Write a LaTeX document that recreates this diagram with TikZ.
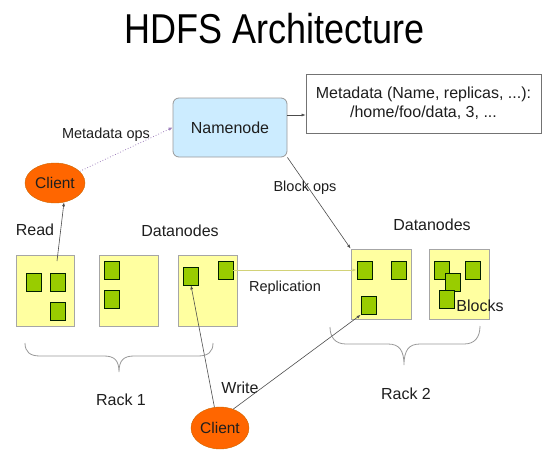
\documentclass[tikz,border=0pt]{standalone}
\usepackage{fontspec}
\setmainfont{Liberation Sans}
\usetikzlibrary{shapes.geometric,arrows.meta}
\definecolor{nnblue}{RGB}{204,236,255}
\definecolor{dnyellow}{RGB}{255,255,160}
\definecolor{blkgreen}{RGB}{153,204,0}
\definecolor{clientorange}{RGB}{255,102,0}
\definecolor{repline}{RGB}{210,210,120}
\definecolor{metaline}{RGB}{160,130,190}
\definecolor{txt}{RGB}{30,30,30}
\tikzset{
  lbl/.style={font=\fontsize{16}{18}\selectfont, text=txt, inner sep=0pt},
  slbl/.style={font=\fontsize{14.5}{17}\selectfont, text=txt, inner sep=0pt},
  nnbox/.style={draw=gray!80, fill=nnblue, rounded corners=6pt, minimum width=114pt, minimum height=59pt, line width=0.8pt, font=\fontsize{16}{18}\selectfont, text=txt},
  metabox/.style={draw=gray!90!black, fill=white, minimum width=235pt, minimum height=59pt, line width=0.8pt, align=center, font=\fontsize{16}{19}\selectfont, text=txt, inner sep=0pt},
  dnbox/.style={draw=gray!70, fill=dnyellow, line width=0.8pt, inner sep=0pt},
  blk/.style={draw=black!70!green!40!black, fill=blkgreen, minimum width=15pt, minimum height=18pt, inner sep=0pt, line width=0.7pt},
  client/.style={ellipse, draw=orange!80!black, fill=clientorange, inner sep=0pt, font=\fontsize{15.5}{18}\selectfont, text=txt},
  conn/.style={draw=black!70, line width=0.6pt, -{Latex[length=4pt,width=3pt]}},
  brc/.style={draw=gray!80, line width=0.8pt}
}
\begin{document}
\begin{tikzpicture}[x=1pt,y=-1pt]
\useasboundingbox (0,0) rectangle (543,450);
% title
\node[inner sep=0pt, text=black] (title) at (275,29) {\scalebox{1}[1.16]{\fontsize{36}{40}\selectfont HDFS Architecture}};
% namenode and metadata
\node[nnbox] (nn) at (230,127.5) {Namenode};
\node[metabox] (meta) at (423.5,103.5) {Metadata (Name, replicas, ...):\\/home/foo/data, 3, ...};
\coordinate (mw) at ([yshift=-11.5pt]meta.west);
\draw[conn] (nn.east |- mw) -- (mw);
% clients
\node[client, minimum width=60pt, minimum height=40pt] (c1) at (55,183) {Client};
\node[client, minimum width=58pt, minimum height=42pt] (c2) at (220,428) {Client};
% datanodes
\node[dnbox, minimum width=58pt, minimum height=71pt] (dn1) at (45,290.5) {};
\node[dnbox, minimum width=59pt, minimum height=71pt] (dn2) at (128.5,290.5) {};
\node[dnbox, minimum width=59pt, minimum height=71pt] (dn3) at (207.5,290.5) {};
\node[dnbox, minimum width=60pt, minimum height=70pt] (dn4) at (381,284) {};
\node[dnbox, minimum width=60pt, minimum height=70pt] (dn5) at (459,284) {};
% blocks
\node[blk] (b1a) at (33.5,282.5) {};
\node[blk] (b1b) at (57.5,282.5) {};
\node[blk] (b1c) at (57.5,311.5) {};
\node[blk] (b2a) at (111.5,270) {};
\node[blk] (b2b) at (111.5,299.5) {};
\node[blk] (b3a) at (191,276) {};
\node[blk] (b3b) at (225.5,270) {};
\node[blk] (b4a) at (364.5,270) {};
\node[blk] (b4b) at (398.5,270) {};
\node[blk] (b4c) at (368.5,305.5) {};
\node[blk] (b5a) at (442,270) {};
\node[blk] (b5c) at (472.5,270) {};
\node[blk] (b5b) at (452.5,282) {};
\node[blk] (b5d) at (447,299) {};
% labels
\node[lbl] (lread) at (35,230) {Read};
\node[lbl] (ldn1) at (180,231) {Datanodes};
\node[lbl] (ldn2) at (432,225) {Datanodes};
\node[lbl] (lblocks) at (480,306) {Blocks};
\node[slbl] (lmeta) at (106,135) {Metadata ops};
\node[slbl] (lbops) at (305,188) {Block ops};
\node[slbl] (lrep) at (285,288) {Replication};
\node[lbl] (lwrite) at (240,388) {Write};
\node[lbl] (lr1) at (121,400) {Rack 1};
\node[lbl] (lr2) at (406,394) {Rack 2};
% connectors
\draw[draw=metaline, line width=0.8pt, dotted, -{Latex[length=4pt,width=3.5pt]}, color=metaline] (c1) -- (nn.west);
\coordinate (r0) at (57,261);
\draw[conn] (r0) -- (c1.-65);
\draw[conn] (nn.south east) -- (dn4.north west);
\draw[draw=repline, line width=0.9pt, -{Latex[length=4pt,width=3pt]}, color=repline] (b3b.east) -- (b4a.west);
\draw[conn] (c2.105) -- (b3a.south);
\draw[conn] (c2.55) -- (b4c.south west);
% braces
\draw[brc] (25,343) .. controls (25,352) and (30,356) .. (40,356) -- (104,356) .. controls (114,356) and (119,360) .. (119,372) .. controls (119,360) and (124,356) .. (134,356) -- (198,356) .. controls (208,356) and (213,352) .. (213,343);
\draw[brc] (330,327) .. controls (330,337) and (335,344) .. (346,344) -- (388,344) .. controls (399,344) and (404,350) .. (404,365) .. controls (404,350) and (409,344) .. (420,344) -- (464,344) .. controls (475,344) and (480,337) .. (480,326);
\end{tikzpicture}
\end{document}
